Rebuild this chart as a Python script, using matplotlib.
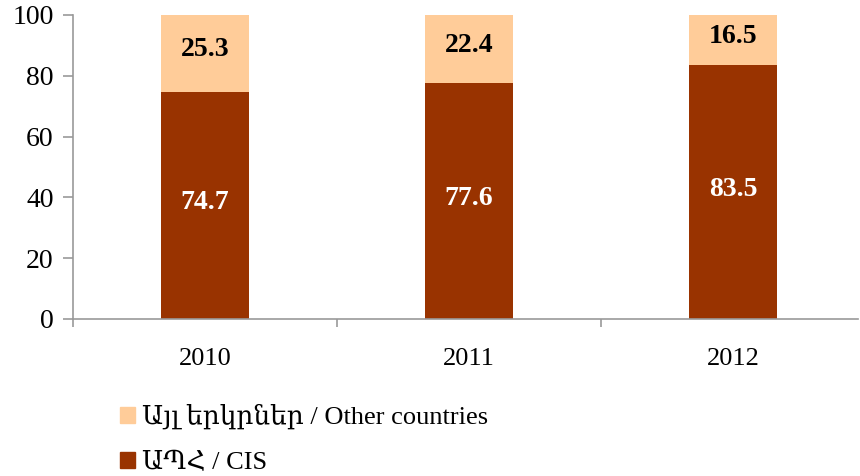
import numpy as np
import matplotlib
matplotlib.use("Agg")
import matplotlib.pyplot as plt
from matplotlib.patches import Patch

plt.rcParams['font.family'] = ['Liberation Serif', 'DejaVu Serif']

years = ["2010", "2011", "2012"]
cis = [74.7, 77.6, 83.5]
other = [25.3, 22.4, 16.5]
cis_label = "ԱՊՀ / CIS"
other_label = "Այլ երկրներ / Other countries"

c_cis = "#993300"
c_other = "#FFCC99"

fig = plt.figure(figsize=(8.6, 4.76), dpi=100)
ax = fig.add_axes([73 / 860, 1 - 319 / 476, (858 - 73) / 860, (319 - 15) / 476])

x = np.arange(len(years))
ax.bar(x, cis, width=0.333, color=c_cis)
ax.bar(x, other, width=0.333, bottom=cis, color=c_other)

for xi, a, b in zip(x, cis, other):
    ax.text(xi, a / 2 + 1, f"{a:.1f}", ha="center", va="center", color="white",
            fontsize=20, fontweight="bold")
    ax.text(xi, a + b / 2 + 1.3, f"{b:.1f}", ha="center", va="center", color="black",
            fontsize=20, fontweight="bold")

ax.set_xlim(-0.5, 2.473)
ax.set_ylim(0, 100)
ax.set_yticks(range(0, 101, 20))
ax.set_xticks(x)
ax.set_xticklabels(years)
ax.set_xticks([-0.5, 0.5, 1.5], minor=True)
ax.tick_params(axis="x", which="major", length=0, pad=21, labelsize=19)
ax.tick_params(axis="x", which="minor", length=6, color="#999999", width=1.2)
ax.tick_params(axis="y", length=7, color="#999999", width=1.2, labelsize=20, pad=7)

for s in ["top", "right"]:
    ax.spines[s].set_visible(False)
for s in ["left", "bottom"]:
    ax.spines[s].set_color("#999999")
    ax.spines[s].set_linewidth(1.2)

handles = [Patch(color=c_other, label=other_label), Patch(color=c_cis, label=cis_label)]
fig.legend(handles=handles, loc="upper left", bbox_to_anchor=(120 / 860, 1 - 404 / 476),
           frameon=False, fontsize=19, handlelength=0.55, handleheight=0.55,
           handletextpad=0.3, labelspacing=0.87, borderpad=0, borderaxespad=0)

fig.savefig("out.png", dpi=100)
